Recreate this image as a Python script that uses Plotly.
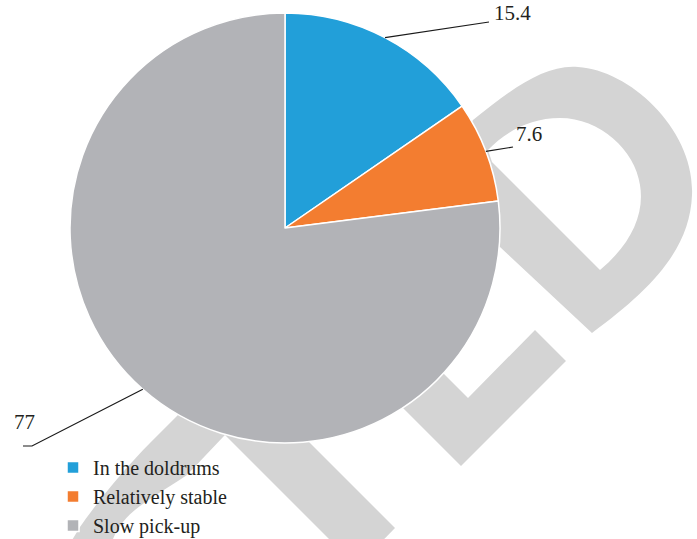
import math
import plotly.graph_objects as go

# Share of respondents by perceived business trend
categories = ["In the doldrums", "Relatively stable", "Slow pick-up"]
values = [15.4, 7.6, 77]
value_labels = ["15.4", "7.6", "77"]
colors = ["#229fd9", "#f37d30", "#b2b3b7"]

W, H = 697, 539
FONT = "Liberation Serif, Times New Roman, serif"
TEXT_COLOR = "#231f20"
MARK_COLOR = "#d4d4d4"

# Pie placement in pixels (centre and radius)
CX, CY, R = 285, 228, 215


def px(x, y):
    """Pixel position -> paper coordinates."""
    return x / W, 1 - y / H


def path_from_pixels(cmds):
    """Build an SVG path in paper coordinates; one command letter per segment."""
    per_cmd = {"M": 1, "L": 1, "C": 3, "Z": 0}
    out = []
    for cmd, pts in cmds:
        n = per_cmd[cmd]
        if n == 0:
            out.append(cmd)
            continue
        for i in range(0, len(pts), n):
            chunk = pts[i:i + n]
            coords = []
            for (x, y) in chunk:
                u, v = px(x, y)
                coords.append(f"{u:.5f},{v:.5f}")
            out.append(cmd + " " + " ".join(coords))
    return " ".join(out)


fig = go.Figure()

x0, y1 = px(CX - R, CY - R)
x1, y0 = px(CX + R, CY + R)
fig.add_trace(go.Pie(
    labels=categories,
    values=values,
    sort=False,
    direction="clockwise",
    rotation=0,
    marker=dict(colors=colors, line=dict(color="white", width=1.5)),
    textinfo="none",
    hoverinfo="label+value",
    domain=dict(x=[x0, x1], y=[y0, y1]),
))

# Background stamp lettering, drawn beneath the pie
stamp_paths = [
    # bowl-and-stem letter at the right
    [("M", [(500, 247)]), ("L", [(440, 190), (470, 125), (473, 120)]),
     ("C", [(510, 90), (545, 64), (578, 67)]),
     ("C", [(630, 70), (695, 130), (692, 195)]),
     ("C", [(690, 250), (650, 290), (592, 333)]),
     ("Z", []),
     ("M", [(492, 162)]), ("L", [(600, 270)]),
     ("C", [(630, 245), (645, 215), (640, 185)]),
     ("C", [(635, 150), (600, 118), (560, 118)]),
     ("C", [(530, 118), (505, 132), (488, 150)]),
     ("Z", [])],
    # corner letter below the bowl
    [("M", [(535, 330)]), ("L", [(566, 361), (461, 466), (395, 400),
                                  (423, 353), (468, 398)]), ("Z", [])],
    # diagonal stem under the pie
    [("M", [(210, 420)]), ("L", [(290, 423), (395, 528), (357, 567),
                                  (227, 437)]), ("Z", [])],
    # curved stroke at lower left
    [("M", [(200, 393)]), ("L", [(150, 443)]),
     ("C", [(125, 468), (95, 505), (80, 527)]),
     ("L", [(60, 560), (108, 560), (113, 539)]),
     ("C", [(125, 510), (150, 500), (187, 475)]),
     ("L", [(223, 437), (245, 415)]), ("Z", [])],
]
shapes = []
for p in stamp_paths:
    shapes.append(dict(type="path", xref="paper", yref="paper",
                       path=path_from_pixels(p), fillcolor=MARK_COLOR,
                       fillrule="evenodd", line=dict(width=0), layer="below"))

# Value labels with leader lines from each slice's mid-angle on the rim
label_elbows = [[(489, 22)], [(513, 147)], [(32, 446), (23, 446)]]
label_text_pos = [(492, 13), (514, 134), (12, 422)]

total = sum(values)
start = 0.0
annotations = []
for val, txt, elbow, (tx, ty) in zip(values, value_labels,
                                     label_elbows, label_text_pos):
    mid = (start + val / 2) / total * 2 * math.pi
    start += val
    rx = CX + R * math.sin(mid)
    ry = CY - R * math.cos(mid)
    shapes.append(dict(type="path", xref="paper", yref="paper",
                       path=path_from_pixels([("M", [(rx, ry)]), ("L", elbow)]),
                       line=dict(color="#1a1a1a", width=1.2), layer="above"))
    ax, ay = px(tx, ty)
    annotations.append(dict(x=ax, y=ay, xref="paper", yref="paper",
                            text=txt, showarrow=False, xanchor="left",
                            yanchor="middle",
                            font=dict(family=FONT, size=21, color=TEXT_COLOR)))

fig.update_layout(
    width=W, height=H,
    margin=dict(l=0, r=0, t=0, b=0, autoexpand=False),
    paper_bgcolor="white",
    plot_bgcolor="white",
    shapes=shapes,
    annotations=annotations,
    showlegend=True,
    legend=dict(x=53 / W, y=1 - 448 / H, xanchor="left", yanchor="top",
                font=dict(family=FONT, size=20, color=TEXT_COLOR),
                bgcolor="rgba(0,0,0,0)", tracegroupgap=0),
)

fig.write_html("out.html")
